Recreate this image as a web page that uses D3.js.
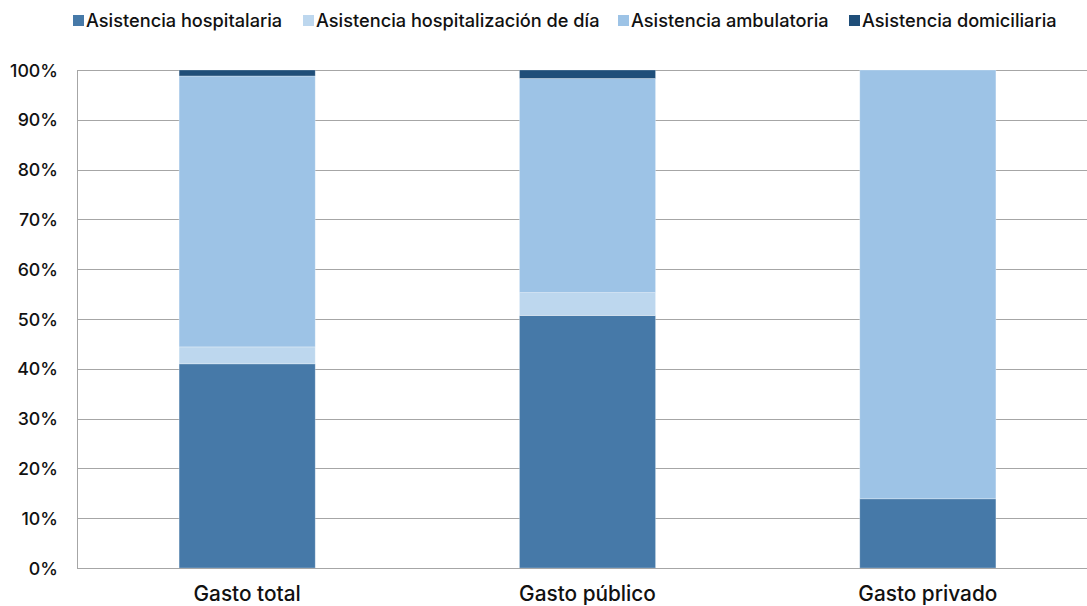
<!DOCTYPE html>
<html lang="es">
<head>
<meta charset="UTF-8">
<title>Gasto por modo de asistencia</title>
<script src="https://cdn.jsdelivr.net/npm/d3@7"></script>
<style>
  body { margin: 0; background: #fff; }
  text { font-family: Inter, "Liberation Sans", Arial, sans-serif; font-weight: 500; fill: #111; }
</style>
</head>
<body>
<div id="container"></div>
<script>
const categories = ["Gasto total", "Gasto público", "Gasto privado"];
const seriesNames = ["Asistencia hospitalaria", "Asistencia hospitalización de día", "Asistencia ambulatoria", "Asistencia domiciliaria"];
const hospitalaria = [41.0, 50.7, 13.9];
const hospDia = [3.4, 4.6, 0.0];
const ambulatoria = [54.4, 43.0, 86.1];
const domiciliaria = [1.2, 1.7, 0.0];
const yTicks = [0, 10, 20, 30, 40, 50, 60, 70, 80, 90, 100];
const colors = ["#4679a8", "#bdd7ee", "#9dc3e6", "#1f4e79"];

const width = 1087, height = 606;
const margin = {top: 70, right: -11, bottom: 38, left: 77};

const svg = d3.select("#container").append("svg")
    .attr("width", width).attr("height", height);

const table = categories.map((c, i) => ({
    cat: c,
    s0: hospitalaria[i], s1: hospDia[i], s2: ambulatoria[i], s3: domiciliaria[i]
}));
const stack = d3.stack().keys(["s0", "s1", "s2", "s3"])(table);

const x = d3.scaleBand().domain(categories)
    .range([margin.left, width - margin.right])
    .paddingInner(0.6).paddingOuter(0.3);
const y = d3.scaleLinear().domain([0, 100]).range([height - margin.bottom, margin.top]);

// gridlines
svg.append("g").selectAll("line").data(yTicks).join("line")
    .attr("x1", margin.left).attr("x2", width - margin.right)
    .attr("y1", d => Math.round(y(d)) + 0.5).attr("y2", d => Math.round(y(d)) + 0.5)
    .attr("stroke", "#a6a6a6").attr("stroke-width", 1);

// y axis labels
svg.append("g").selectAll("text").data(yTicks).join("text")
    .attr("x", 58).attr("y", d => y(d) + 6.5)
    .attr("text-anchor", "end").attr("font-size", 17.8)
    .text(d => d + "%");

// bars
svg.append("g").selectAll("g").data(stack).join("g")
    .attr("fill", (d, i) => colors[i])
    .selectAll("rect").data(d => d).join("rect")
    .attr("x", d => x(d.data.cat))
    .attr("width", x.bandwidth())
    .attr("y", d => y(d[1]))
    .attr("height", d => y(d[0]) - y(d[1]))
    .attr("stroke", "#ffffff").attr("stroke-opacity", 0.35).attr("stroke-width", 0.8);

// axis lines
svg.append("line")
    .attr("x1", margin.left + 0.5).attr("x2", margin.left + 0.5)
    .attr("y1", y(100)).attr("y2", y(0))
    .attr("stroke", "#a6a6a6");
svg.append("line")
    .attr("x1", margin.left).attr("x2", width)
    .attr("y1", Math.round(y(0)) + 0.5).attr("y2", Math.round(y(0)) + 0.5)
    .attr("stroke", "#a6a6a6");

// category labels
svg.append("g").selectAll("text").data(categories).join("text")
    .attr("x", d => x(d) + x.bandwidth() / 2).attr("y", 601)
    .attr("text-anchor", "middle").attr("font-size", 20.8)
    .text(d => d);

// legend
const legendX = [73, 303, 618, 849];
const legend = svg.append("g");
seriesNames.forEach((name, i) => {
    legend.append("rect")
        .attr("x", legendX[i]).attr("y", 15)
        .attr("width", 11).attr("height", 11)
        .attr("fill", colors[i]);
    legend.append("text")
        .attr("x", legendX[i] + 13).attr("y", 27)
        .attr("font-size", 18.2)
        .text(name);
});
</script>
</body>
</html>
